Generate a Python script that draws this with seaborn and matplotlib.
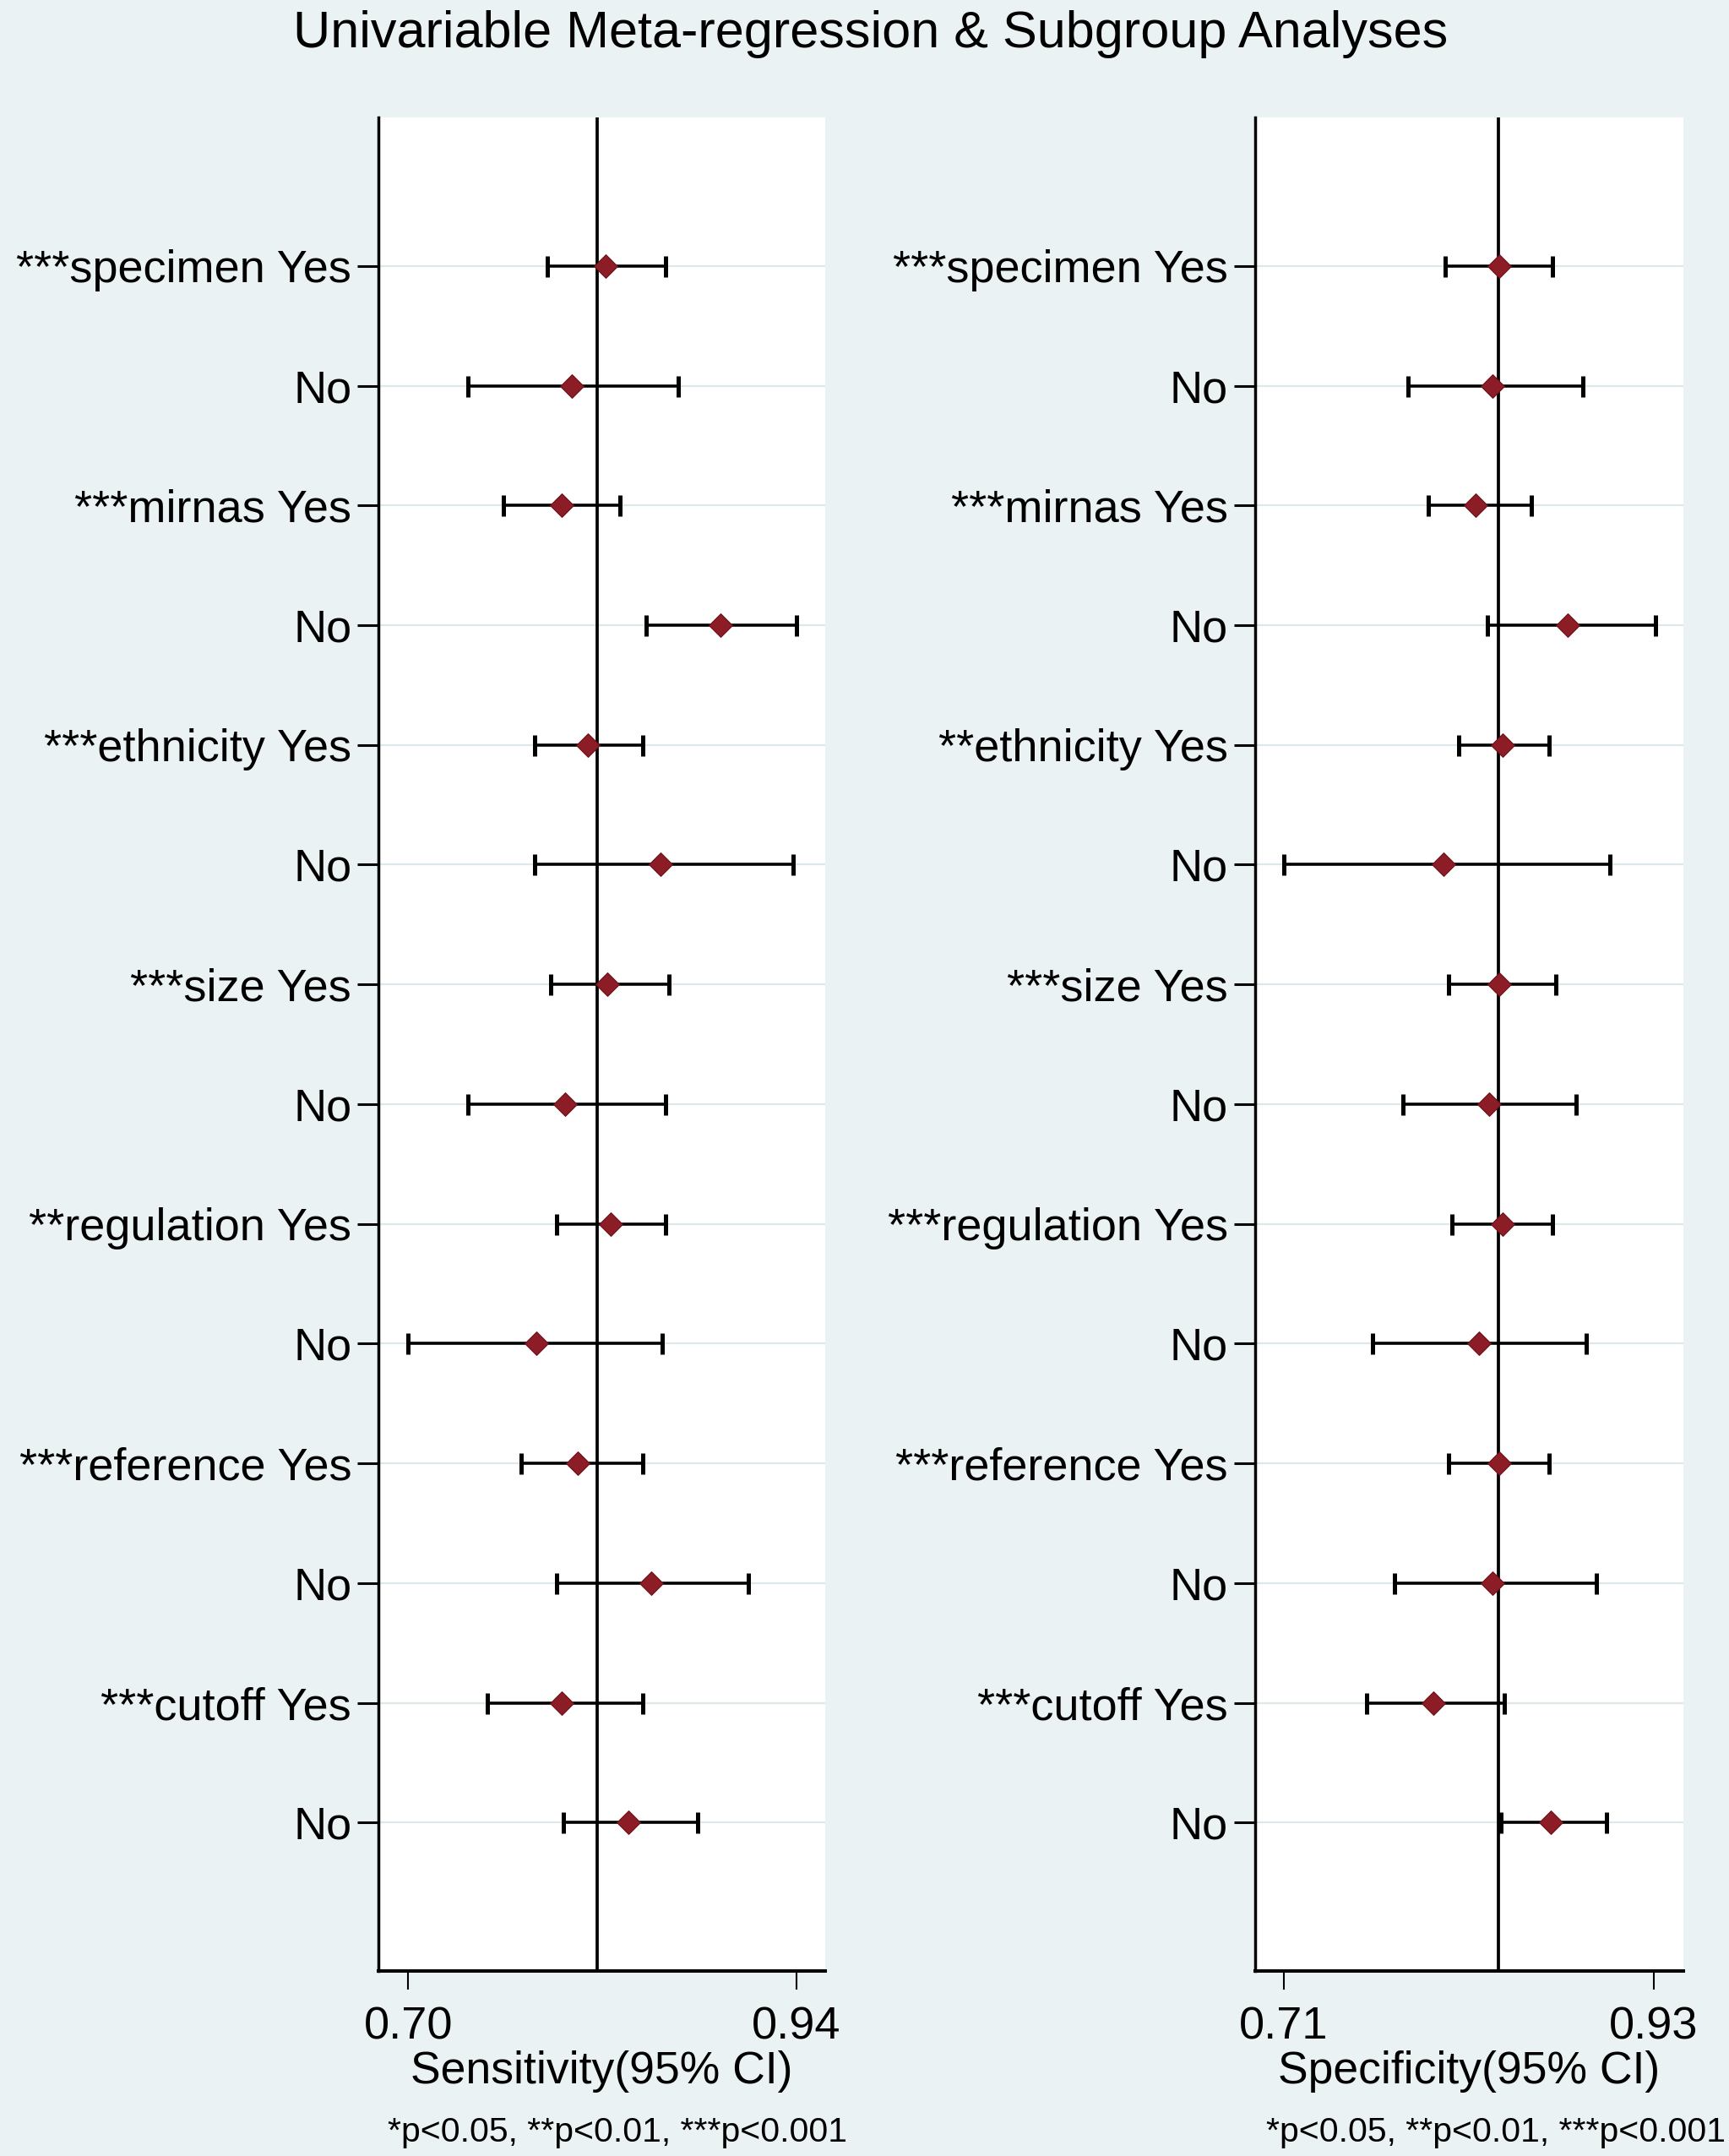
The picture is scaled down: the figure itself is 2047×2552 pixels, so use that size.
import numpy as np
import pandas as pd
import matplotlib
matplotlib.use("Agg")
import matplotlib.pyplot as plt
import seaborn as sns

# ---------------- data ----------------
sens_labels = ["***specimen Yes", "No", "***mirnas Yes", "No", "***ethnicity Yes", "No",
               "***size Yes", "No", "**regulation Yes", "No", "***reference Yes", "No",
               "***cutoff Yes", "No"]
spec_labels = ["***specimen Yes", "No", "***mirnas Yes", "No", "**ethnicity Yes", "No",
               "***size Yes", "No", "***regulation Yes", "No", "***reference Yes", "No",
               "***cutoff Yes", "No"]

sens = [0.822, 0.801, 0.795, 0.893, 0.811, 0.856, 0.823, 0.797, 0.825, 0.779, 0.805, 0.850, 0.795, 0.836]
sens_lo = [0.786, 0.737, 0.759, 0.847, 0.778, 0.778, 0.788, 0.737, 0.792, 0.700, 0.770, 0.792, 0.749, 0.796]
sens_hi = [0.859, 0.867, 0.831, 0.940, 0.845, 0.938, 0.861, 0.859, 0.859, 0.857, 0.845, 0.910, 0.845, 0.879]
sens_overall = 0.817

spec = [0.838, 0.834, 0.824, 0.879, 0.840, 0.805, 0.838, 0.832, 0.840, 0.826, 0.838, 0.834, 0.799, 0.869]
spec_lo = [0.806, 0.784, 0.796, 0.831, 0.814, 0.710, 0.808, 0.781, 0.810, 0.763, 0.808, 0.776, 0.759, 0.839]
spec_hi = [0.870, 0.888, 0.857, 0.931, 0.868, 0.904, 0.872, 0.884, 0.870, 0.890, 0.868, 0.896, 0.841, 0.902]
spec_overall = 0.8375

sens_ticks = [0.70, 0.94]
spec_ticks = [0.71, 0.93]
sens_xlim = (0.6817, 0.9577)
spec_xlim = (0.6929, 0.9476)

title = "Univariable Meta-regression & Subgroup Analyses"
sens_xlabel = "Sensitivity(95% CI)"
spec_xlabel = "Specificity(95% CI)"
note = "*p<0.05, **p<0.01, ***p<0.001"

# ---------------- style ----------------
sns.set_theme(style="white")
plt.rcParams['font.family'] = ['Liberation Sans', 'DejaVu Sans']

BG = "#EAF2F3"
MARKER = "#8C1C26"
GRID = "#DDE8EC"

fig = plt.figure(figsize=(20.47, 25.52), dpi=100, facecolor=BG)

ax_pos = {
    "sens": [0.2189, 0.0858, 0.2584, 0.8597],
    "spec": [0.7259, 0.0858, 0.2477, 0.8597],
}


def draw_panel(pos, labels, est, lo, hi, overall, ticks, xlim, xlabel, note_x):
    ax = fig.add_axes(pos)
    ax.set_facecolor("white")
    n = len(labels)
    df = pd.DataFrame({"row": np.arange(n), "label": labels, "est": est,
                       "lo": lo, "hi": hi})
    # grid lines
    for r in df["row"]:
        ax.axhline(r, color=GRID, lw=1.6, zorder=0)
    # reference line
    ax.axvline(overall, color="black", lw=2.7, zorder=1)
    # confidence intervals
    ax.errorbar(df["est"], df["row"],
                xerr=[df["est"] - df["lo"], df["hi"] - df["est"]],
                fmt="none", ecolor="black", elinewidth=2.6, capsize=9,
                capthick=3.6, zorder=2)
    # point estimates
    sns.scatterplot(data=df, x="est", y="row", marker="D", s=200,
                    color=MARKER, edgecolor="#6A1219", linewidth=0.8,
                    zorder=3, ax=ax, legend=False)
    ax.set_ylim(n - 1 + 1.24, -1.24)
    ax.set_xlim(*xlim)
    ax.set_yticks(df["row"])
    ax.set_yticklabels(labels)
    ax.set_xticks(ticks)
    ax.set_xticklabels([f"{t:.2f}" for t in ticks])
    ax.set_ylabel("")
    ax.set_xlabel(xlabel, fontsize=38.5, labelpad=2, color="black")
    for s in ["top", "right"]:
        ax.spines[s].set_visible(False)
    ax.spines["left"].set_color("black")
    ax.spines["left"].set_linewidth(2.5)
    ax.spines["bottom"].set_color("black")
    ax.spines["bottom"].set_linewidth(2.9)
    ax.tick_params(axis="y", which="major", left=True, length=18, width=2.2,
                   pad=5, labelsize=39, colors="black", direction="out")
    ax.tick_params(axis="x", which="major", bottom=True, length=16, width=1.5,
                   pad=14, labelsize=39, colors="black", direction="out")
    fig.text(note_x, 0.0067, note, fontsize=29.5, ha="left", va="baseline",
             color="black")
    return ax


draw_panel(ax_pos["sens"], sens_labels, sens, sens_lo, sens_hi, sens_overall,
           sens_ticks, sens_xlim, sens_xlabel, 0.2242)
draw_panel(ax_pos["spec"], spec_labels, spec, spec_lo, spec_hi, spec_overall,
           spec_ticks, spec_xlim, spec_xlabel, 0.7323)

fig.text(0.5037, 0.978, title, fontsize=44, ha="center", va="baseline",
         color="black")

fig.savefig("out.png", dpi=100, facecolor=BG)
